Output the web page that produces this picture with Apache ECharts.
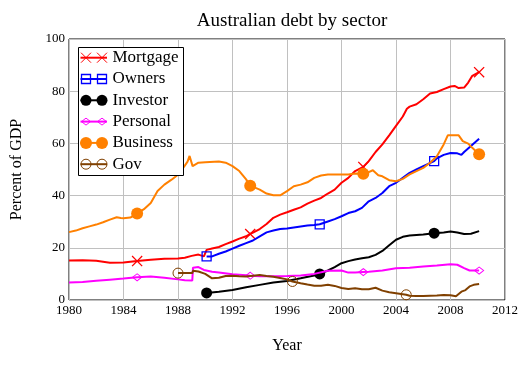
<!DOCTYPE html>
<html>
<head>
<meta charset="utf-8">
<script src="https://cdn.jsdelivr.net/npm/echarts@6/dist/echarts.min.js"></script>
<style>html,body{margin:0;padding:0;background:#fff;}#c{width:527px;height:373px;}</style>
</head>
<body>
<div id="c"></div>
<script>
const seriesNames = ['Mortgage','Owners','Investor','Personal','Business','Gov'];
const xTicks = [1980,1984,1988,1992,1996,2000,2004,2008,2012];
const yTicks = [0,20,40,60,80,100];

const mortgage = [[1980,15.1],[1981,15.2],[1982,15.0],[1983,14.3],[1984,14.4],[1985,14.9],[1986,15.4],[1987,15.8],[1988,15.9],[1988.5,16.2],[1989,16.9],[1989.5,17.4],[1989.9,16.7],[1990.1,19.2],[1990.5,19.7],[1991,20.3],[1991.5,21.4],[1992,22.4],[1992.5,23.5],[1993,24.4],[1993.3,25.3],[1993.5,25.8],[1994,27.2],[1994.5,29.1],[1995,31.5],[1995.5,32.7],[1996,33.6],[1996.5,34.6],[1997,35.5],[1997.5,36.9],[1998,38.1],[1998.5,39.1],[1999,40.8],[1999.5,42.3],[2000,44.9],[2000.5,46.8],[2001,49.4],[2001.6,51.0],[2002,53.2],[2002.5,56.7],[2003,59.6],[2003.5,63.1],[2004,66.7],[2004.5,70.3],[2004.8,73.3],[2005,74.1],[2005.5,75.0],[2006,76.9],[2006.5,79.1],[2007,79.7],[2007.5,80.8],[2008,81.8],[2008.3,82.0],[2008.6,81.2],[2009,81.4],[2009.3,83.3],[2009.6,85.9],[2010.1,87.3]];
const owners = [[1990.1,16.7],[1990.5,16.7],[1991,17.7],[1991.5,18.6],[1992,19.7],[1992.5,20.8],[1993,21.8],[1993.5,22.8],[1994,24.4],[1994.5,25.9],[1995,26.6],[1995.5,27.2],[1996,27.4],[1996.5,27.8],[1997,28.2],[1997.5,28.5],[1998,28.7],[1998.4,29.0],[1999,30.1],[1999.5,31.0],[2000,32.1],[2000.5,33.3],[2001,34.0],[2001.5,35.3],[2002,37.8],[2002.5,39.1],[2003,41.0],[2003.5,43.6],[2004,44.9],[2004.5,46.8],[2005,48.7],[2005.5,50.0],[2006,51.3],[2006.8,53.2],[2007,54.3],[2007.5,55.6],[2008,56.3],[2008.5,56.2],[2008.8,55.6],[2009,56.7],[2009.5,59.0],[2010.1,61.8]];
const investor = [[1990.1,2.7],[1991,3.2],[1992,3.8],[1993,4.9],[1994,5.8],[1995,6.7],[1996,7.3],[1997,8.3],[1998,9.4],[1998.4,10.0],[1999,11.3],[1999.5,12.6],[2000,14.1],[2000.5,14.9],[2001,15.5],[2001.5,16.0],[2002,16.4],[2002.5,17.3],[2003,18.8],[2003.5,21.0],[2004,23.1],[2004.5,24.2],[2005,24.7],[2005.5,24.9],[2006,25.1],[2006.8,25.6],[2007.5,25.9],[2008,26.2],[2008.5,25.9],[2009,25.3],[2009.5,25.4],[2010.1,26.4]];
const personal = [[1980,6.7],[1981,6.9],[1982,7.4],[1983,7.8],[1984,8.2],[1985,8.7],[1986,9.0],[1987,8.5],[1988,7.9],[1988.5,7.6],[1989.05,7.5],[1989.1,12.4],[1989.5,12.6],[1989.9,11.5],[1990.5,10.8],[1991,10.5],[1992,9.9],[1993,9.5],[1993.3,9.3],[1994,9.1],[1995,9.1],[1996,9.2],[1997,9.4],[1998,10.0],[1999,11.2],[2000,11.3],[2000.5,10.5],[2001,10.5],[2001.6,10.7],[2002,10.8],[2003,11.3],[2004,12.2],[2005,12.4],[2006,12.8],[2007,13.2],[2008,13.7],[2008.5,13.5],[2009,12.2],[2009.4,11.3],[2010.1,11.3]];
const business = [[1980,26.0],[1980.5,26.6],[1981,27.5],[1981.5,28.2],[1982,28.9],[1982.5,29.8],[1983,30.8],[1983.5,31.7],[1983.8,31.4],[1984,31.3],[1984.5,31.6],[1985,33.1],[1985.5,34.8],[1986,37.2],[1986.5,41.8],[1987,44.2],[1987.5,46.0],[1988,48.0],[1988.5,51.5],[1988.7,53.0],[1988.85,55.2],[1988.95,55.6],[1989.07,51.3],[1989.5,52.6],[1990,52.8],[1991,53.1],[1991.5,52.6],[1992,51.3],[1992.5,49.4],[1993,46.2],[1993.3,43.8],[1994,42.3],[1994.5,40.8],[1995,40.1],[1995.5,40.1],[1996,41.7],[1996.5,43.6],[1997,44.2],[1997.5,45.1],[1998,46.8],[1998.5,47.7],[1999,48.1],[2000,48.1],[2000.5,48.1],[2001,48.5],[2001.6,48.4],[2002,49.0],[2002.3,49.7],[2002.7,47.8],[2003,47.4],[2003.5,45.9],[2004,45.5],[2004.5,46.4],[2005,48.1],[2005.5,49.4],[2006,50.6],[2006.5,52.6],[2007,55.1],[2007.5,59.6],[2007.8,63.1],[2008.6,63.1],[2008.9,60.9],[2009.3,59.9],[2009.6,58.3],[2010.1,55.8]];
const gov = [[1988,10.3],[1989.05,10.3],[1989.1,11.2],[1989.5,10.9],[1990,10.0],[1990.5,8.3],[1991,8.5],[1991.5,9.2],[1992,9.3],[1992.5,9.1],[1993,9.0],[1993.5,9.3],[1994,9.6],[1994.5,9.2],[1995,8.9],[1995.5,8.4],[1996,7.9],[1996.4,7.1],[1997,6.4],[1997.5,5.9],[1998,5.5],[1998.5,5.5],[1999,5.8],[1999.5,5.4],[2000,4.6],[2000.5,4.2],[2001,4.5],[2001.5,4.1],[2002,4.1],[2002.5,4.7],[2003,3.6],[2003.5,3.0],[2004,2.6],[2004.75,2.0],[2005,1.6],[2005.5,1.5],[2006,1.5],[2006.5,1.6],[2007,1.7],[2007.5,1.9],[2008,1.8],[2008.4,1.4],[2008.8,3.2],[2009.1,3.8],[2009.4,5.2],[2009.7,5.8],[2010.1,6.1]];

const mortgageMarkers = [1985,1993.3,2001.6,2010.1];
const ownersMarkers = [1990.1,1998.4,2006.8];
const investorMarkers = [1990.1,1998.4,2006.8];
const personalMarkers = [1985,1993.3,2001.6,2010.1];
const businessMarkers = [1985,1993.3,2001.6,2010.1];
const govMarkers = [1988,1996.4,2004.75];

const colors = ['#ff0000','#0000ff','#000000','#ff00ff','#ff8000','#804000'];
const xPath = 'path://M0,1 L1,0 L6,5 L11,0 L12,1 L7,6 L12,11 L11,12 L6,7 L1,12 L0,11 L5,6 Z';
const styles = [
  {symbol:xPath, size:11, fill:'#ff0000', border:'#ff0000', bw:0},
  {symbol:'rect', size:9, fill:'rgba(0,0,0,0)', border:'#0000ff', bw:1.3},
  {symbol:'circle', size:11, fill:'#000000', border:'#000000', bw:0},
  {symbol:'diamond', size:[9,7], fill:'rgba(0,0,0,0)', border:'#ff00ff', bw:1},
  {symbol:'circle', size:12, fill:'#ff8000', border:'#ff8000', bw:0},
  {symbol:'circle', size:10, fill:'rgba(0,0,0,0)', border:'#804000', bw:1}
];
const allData = [mortgage, owners, investor, personal, business, gov];
const allMarkers = [mortgageMarkers, ownersMarkers, investorMarkers, personalMarkers, businessMarkers, govMarkers];

const series = allData.map((d, i) => ({
  type: 'line',
  name: seriesNames[i],
  showSymbol: true,
  symbol: styles[i].symbol,
  symbolSize: styles[i].size,
  lineStyle: {color: colors[i], width: 2},
  itemStyle: {color: styles[i].fill, borderColor: styles[i].border, borderWidth: styles[i].bw},
  emphasis: {disabled: true},
  silent: true,
  z: 2 + i,
  data: d.map(p => ({
    value: p,
    symbol: allMarkers[i].indexOf(p[0]) >= 0 ? styles[i].symbol : 'none'
  }))
}));

// Legend drawn with graphic elements
const lg = [];
const lx = 78.5, ly = 47.5;
lg.push({type:'rect', shape:{x:lx, y:ly, width:105, height:128}, style:{fill:'#fff', stroke:'#000', lineWidth:1}, z:100});
seriesNames.forEach((n, i) => {
  const cy = 57.7 + i * 21.3;
  const c = colors[i];
  lg.push({type:'line', shape:{x1:80.5, y1:cy, x2:107, y2:cy}, style:{stroke:c, lineWidth:2}, z:101});
  [86, 102].forEach(mx => {
    if (i === 0) {
      lg.push({type:'line', shape:{x1:mx-5, y1:cy-5, x2:mx+5, y2:cy+5}, style:{stroke:c, lineWidth:1}, z:102});
      lg.push({type:'line', shape:{x1:mx-5, y1:cy+5, x2:mx+5, y2:cy-5}, style:{stroke:c, lineWidth:1}, z:102});
    } else if (i === 1) {
      lg.push({type:'rect', shape:{x:mx-4.5, y:cy-4.5, width:9, height:9}, style:{fill:'none', stroke:c, lineWidth:1.3}, z:102});
    } else if (i === 2 || i === 4) {
      lg.push({type:'circle', shape:{cx:mx, cy:cy, r:i===4?6:5.5}, style:{fill:c}, z:102});
    } else if (i === 3) {
      lg.push({type:'polygon', shape:{points:[[mx-4.5,cy],[mx,cy-3.5],[mx+4.5,cy],[mx,cy+3.5]]}, style:{fill:'none', stroke:c, lineWidth:1}, z:102});
    } else {
      lg.push({type:'circle', shape:{cx:mx, cy:cy, r:5}, style:{fill:'none', stroke:c, lineWidth:1}, z:102});
    }
  });
  lg.push({type:'text', x:112.5, y:cy, style:{text:n, font:'17px "Liberation Serif"', fill:'#000', verticalAlign:'middle', textAlign:'left'}, z:102});
});

const chart = echarts.init(document.getElementById('c'), null, {renderer:'canvas'});
chart.setOption({
  animation: false,
  backgroundColor: '#fff',
  title: {
    text: 'Australian debt by sector',
    left: 287, top: 7, textAlign: 'center',
    textStyle: {fontFamily: 'Liberation Serif', fontSize: 19, fontWeight: 'normal', color: '#000'}
  },
  grid: {left: 69, right: 22, top: 39, bottom: 73, show: true, borderColor: '#000', borderWidth: 1, backgroundColor: 'transparent'},
  xAxis: {
    type: 'value', min: xTicks[0], max: xTicks[xTicks.length-1], interval: 4,
    name: 'Year', nameLocation: 'middle', nameGap: 38,
    nameTextStyle: {fontFamily: 'Liberation Serif', fontSize: 16, color: '#000'},
    axisLine: {show: false}, axisTick: {show: false},
    axisLabel: {fontFamily: 'Liberation Serif', fontSize: 13, color: '#000', margin: 4, formatter: v => String(v)},
    splitLine: {show: true, lineStyle: {color: '#c0c0c0', width: 1}}
  },
  yAxis: {
    type: 'value', min: yTicks[0], max: yTicks[yTicks.length-1], interval: 20,
    name: 'Percent of GDP', nameLocation: 'middle', nameGap: 44,
    nameTextStyle: {fontFamily: 'Liberation Serif', fontSize: 16, color: '#000'},
    axisLine: {show: false}, axisTick: {show: false},
    axisLabel: {fontFamily: 'Liberation Serif', fontSize: 13, color: '#000', margin: 4},
    splitLine: {show: true, lineStyle: {color: '#c0c0c0', width: 1}}
  },
  series: series,
  graphic: lg
});
</script>
</body>
</html>
